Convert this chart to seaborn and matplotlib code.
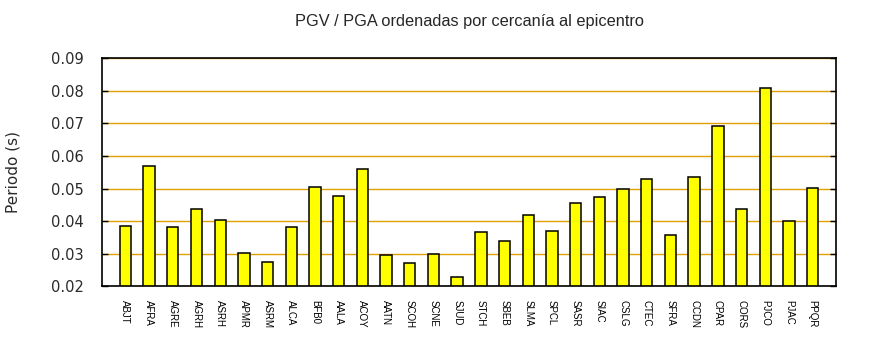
import matplotlib
matplotlib.use("Agg")
import matplotlib.pyplot as plt
import seaborn as sns
import pandas as pd

estaciones = ["ABJT", "AFRA", "AGRE", "AGRH", "ASRH", "APMR", "ASRM", "ALCA",
              "BFB0", "AALA", "ACOY", "AATN", "SCOH", "SCNE", "SJUD", "STCH",
              "SBEB", "SLMA", "SPCL", "SASR", "SIAC", "CSLG", "CTEC", "SFRA",
              "CCDN", "CPAR", "CORS", "PJCO", "PJAC", "PPQR"]
periodo = [0.0386, 0.0569, 0.0383, 0.0436, 0.0405, 0.0303, 0.0275, 0.0383,
           0.0504, 0.0476, 0.0559, 0.0297, 0.0272, 0.0300, 0.0228, 0.0368,
           0.0340, 0.0420, 0.0371, 0.0457, 0.0473, 0.0498, 0.0528, 0.0356,
           0.0535, 0.0692, 0.0436, 0.0808, 0.0402, 0.0501]
yticks = [0.02, 0.03, 0.04, 0.05, 0.06, 0.07, 0.08, 0.09]

df = pd.DataFrame({"estacion": estaciones, "periodo": periodo})

sns.set_style("white")
plt.rcParams["font.family"] = ["DejaVu Sans"]

fig = plt.figure(figsize=(8.7, 3.5), dpi=100)
ax = fig.add_axes([0.1169, 0.182, 0.8444, 0.6514])

sns.barplot(data=df, x="estacion", y="periodo", ax=ax, width=0.48,
            color="#ffff00", saturation=1, edgecolor="black", linewidth=1.1)

ax.set_xlim(-1, 30)
ax.set_ylim(0.02, 0.09)
ax.set_yticks(yticks)
ax.set_yticklabels([f"{v:.2f}" for v in yticks], fontsize=10.5, color="#2a2a2a")
ax.set_axisbelow(True)
ax.yaxis.grid(True, color="#e0a000", linewidth=1.0)
ax.xaxis.grid(False)

ax.tick_params(axis="y", direction="in", left=True, right=True, length=4,
               width=1, color="black", pad=13)
ax.tick_params(axis="x", length=0, pad=10)
for lbl in ax.get_xticklabels():
    lbl.set_rotation(-90)
    lbl.set_fontsize(7)
    lbl.set_family(["Liberation Sans"])
    lbl.set_color("black")
    lbl.set_va("top")
    lbl.set_ha("center")

for s in ax.spines.values():
    s.set_color("black")
    s.set_linewidth(1.2)

ax.set_xlabel("")
ax.set_ylabel("Periodo (s)", fontsize=11, color="#2a2a2a")
ax.yaxis.set_label_coords(-0.11, 0.5)
ax.set_title("PGV / PGA ordenadas por cercanía al epicentro",
             fontsize=11.8, family=["Liberation Sans"], pad=23)

fig.savefig("out.png", dpi=100, facecolor="white")
